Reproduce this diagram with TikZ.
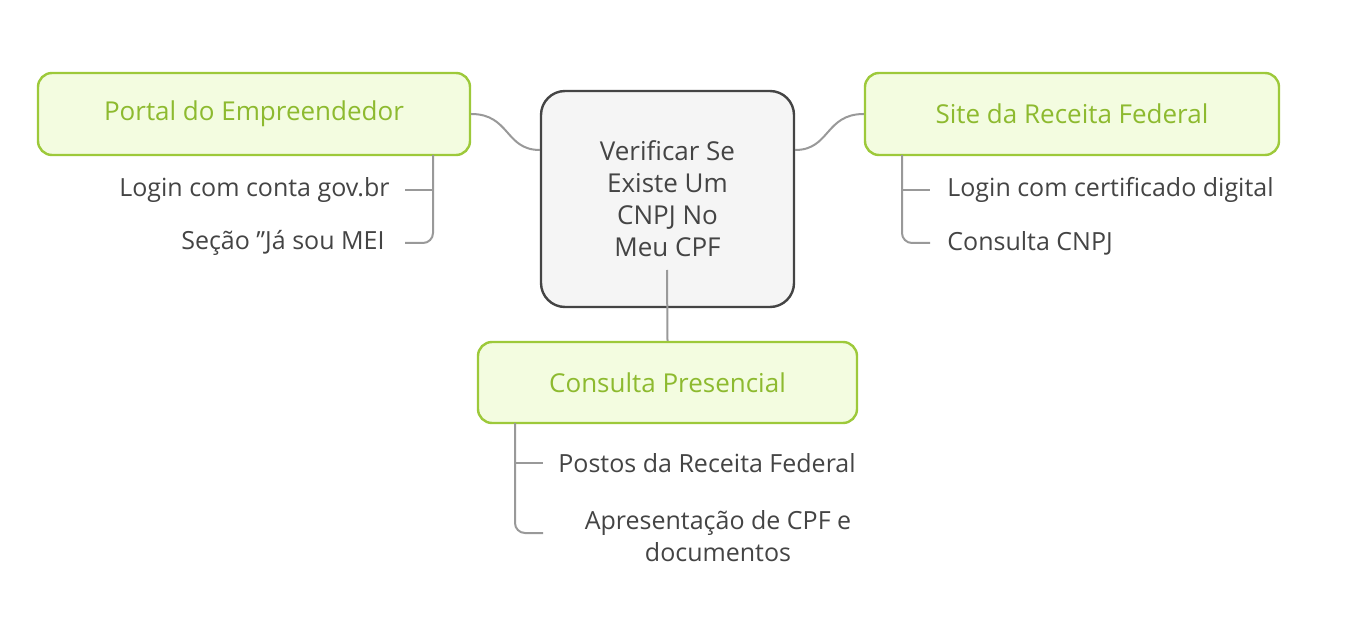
\documentclass[tikz,border=0pt]{standalone}
\usepackage{fontspec}
\setmainfont{Open Sans}
\usetikzlibrary{positioning}
\definecolor{leafline}{RGB}{157,201,58}
\definecolor{leaffill}{RGB}{243,252,224}
\definecolor{leaftext}{RGB}{141,186,47}
\definecolor{hubtext}{RGB}{68,68,68}
\definecolor{twig}{RGB}{153,153,153}
\tikzset{
  leaf/.style={draw=leafline,fill=leaffill,line width=1.2pt,rounded corners=7pt,
    text=leaftext,font=\fontsize{13}{15}\selectfont,inner sep=0pt},
  hub/.style={draw=hubtext,fill=black!4,line width=1.2pt,rounded corners=12pt,
    text=hubtext,font=\fontsize{13}{16}\selectfont,align=center,inner sep=0pt},
  item/.style={text=hubtext,font=\fontsize{12.5}{16}\selectfont,inner sep=0pt},
  twig/.style={draw=twig,line width=1pt,rounded corners=5pt}
}
\begin{document}
\begin{tikzpicture}[x=0.5pt,y=-0.5pt]
\useasboundingbox (0,0) rectangle (1371,636);
% main topic
\node[hub,minimum width=126.5pt,minimum height=108pt] (hub) at (667.5,199) {Verificar Se\\Existe Um\\CNPJ No\\Meu CPF};
% branches
\node[leaf,minimum width=216pt,minimum height=41pt] (portal) at (254,114) {Portal do Empreendedor};
\node[leaf,minimum width=207pt,minimum height=41pt] (site) at (1072,114) {Site da Receita Federal};
\node[leaf,minimum width=189.5pt,minimum height=40.5pt] (pres) at (667.5,382.5) {Consulta Presencial};
\draw[twig] (portal.east) .. controls (510,114) and (505,150) .. (hub.west|-0,150);
\draw[twig] (site.west) .. controls (825,114) and (830,150) .. (hub.east|-0,150);
\draw[twig] (667,270) -- (pres.north);
% sub items
\node[item,anchor=east] (p1) at (390,190) {Login com conta gov.br};
\node[item,anchor=east] (p2) at (385,243) {Seção "Já sou MEI};
\draw[twig] (433,155) -- (433,243) -- (405,243);
\draw[twig] (433,190) -- (405,190);
\node[item,anchor=west] (s1) at (947,190) {Login com certificado digital};
\node[item,anchor=west] (s2) at (947,243) {Consulta CNPJ};
\draw[twig] (902,155) -- (902,243) -- (930,243);
\draw[twig] (902,190) -- (930,190);
\node[item,anchor=west] (c1) at (558,463) {Postos da Receita Federal};
\node[item,align=center] (c2) at (718,536) {Apresentação de CPF e\\documentos};
\draw[twig] (515,423) -- (515,533) -- (543,533);
\draw[twig] (515,463) -- (543,463);
\end{tikzpicture}
\end{document}
